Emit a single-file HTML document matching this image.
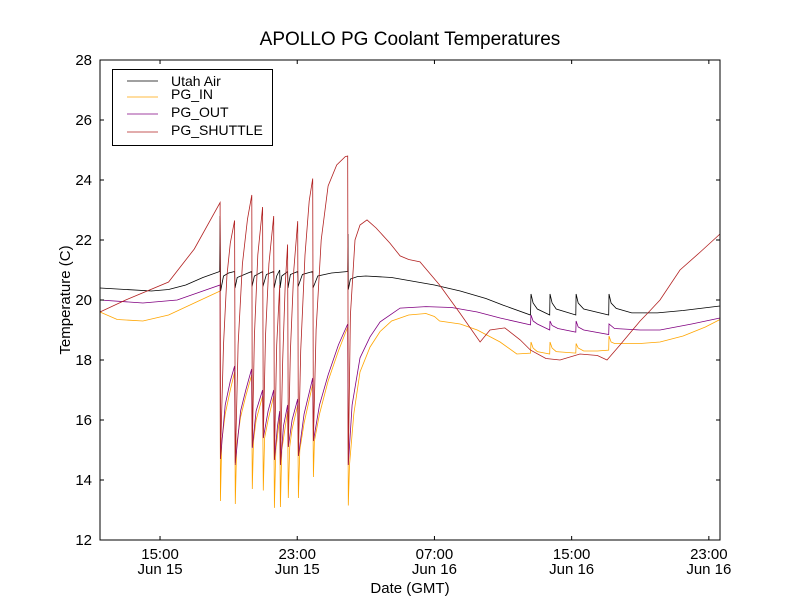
<!DOCTYPE html>
<html><head><meta charset="utf-8"><style>
body{margin:0;background:#fff;}
svg text{font-family:"Liberation Sans","DejaVu Sans",sans-serif;}
</style></head><body>
<svg id="chart" width="800" height="600" xmlns="http://www.w3.org/2000/svg">
<rect width="800" height="600" fill="#fff"/>
<text x="410" y="45" font-size="19" text-anchor="middle">APOLLO PG Coolant Temperatures</text>
<text x="410" y="593" font-size="15" text-anchor="middle">Date (GMT)</text>
<text transform="translate(70,300) rotate(-90)" font-size="15" text-anchor="middle">Temperature (C)</text>
<g id="series"></g>
<g id="axes"></g>
<rect x="100" y="60" width="620" height="480" fill="none" stroke="#000" stroke-width="1"/>
<g>
<rect x="112.5" y="69.5" width="160" height="76" fill="#fff" stroke="#000"/>
<line x1="127" y1="81" x2="158" y2="81" stroke="#000" stroke-width="0.8"/>
<text x="171" y="86" font-size="14">Utah Air</text>
<line x1="127" y1="97" x2="158" y2="97" stroke="#ffa500" stroke-width="0.8"/>
<text x="171" y="99" font-size="14">PG_IN</text>
<line x1="127" y1="114" x2="158" y2="114" stroke="#800080" stroke-width="0.8"/>
<text x="171" y="117" font-size="14">PG_OUT</text>
<line x1="127" y1="132" x2="158" y2="132" stroke="#b22222" stroke-width="0.8"/>
<text x="171" y="135" font-size="14">PG_SHUTTLE</text>
</g>
</svg>
<script>
const yTicks=[12,14,16,18,20,22,24,26,28];
const xTickHours=[15,23,31,39,47];
const xTickTimes=["15:00","23:00","07:00","15:00","23:00"];
const xTickDates=["Jun 15","Jun 15","Jun 16","Jun 16","Jun 16"];
const utahAir=[[11.5,20.4],[13,20.35],[14.5,20.3],[15.5,20.35],[16.5,20.5],[17.5,20.75],[18.48,20.95],[18.5,22.8],[18.53,20.3],[18.7,20.8],[19.0,20.9],[19.35,20.95],[19.37,20.4],[19.5,20.75],[20.34,20.95],[20.36,20.45],[20.5,20.8],[20.98,20.95],[21.0,20.45],[21.2,20.85],[21.63,20.95],[21.65,20.4],[21.8,20.8],[21.98,21.0],[22.0,20.4],[22.1,20.8],[22.44,20.95],[22.46,20.4],[22.6,20.85],[23.03,20.95],[23.05,20.45],[23.3,20.85],[23.9,20.95],[23.92,20.4],[24.2,20.8],[25.0,20.9],[25.94,20.95],[25.96,22.2],[25.98,20.35],[26.1,20.7],[26.5,20.78],[27,20.8],[28.5,20.75],[29.5,20.65],[31,20.5],[32.5,20.3],[34,20.05],[35,19.83],[36.6,19.5],[36.63,20.2],[36.75,19.9],[37.0,19.7],[37.72,19.5],[37.74,20.2],[37.86,19.9],[38.1,19.7],[39.24,19.5],[39.26,20.2],[39.38,19.9],[39.7,19.7],[41.16,19.5],[41.18,20.2],[41.3,19.9],[41.6,19.72],[42.5,19.57],[44,19.57],[45.5,19.65],[47.65,19.8]];
const pgIn=[[11.5,19.6],[12.5,19.35],[14,19.3],[15.5,19.5],[17,19.9],[18.5,20.3],[18.52,13.3],[18.6,15.3],[18.8,16.2],[19.1,17.0],[19.35,17.6],[19.39,13.2],[19.47,15.2],[19.7,16.1],[20.0,16.8],[20.34,17.5],[20.38,13.7],[20.45,15.3],[20.6,16.0],[20.98,16.8],[21.02,13.65],[21.1,15.4],[21.3,16.0],[21.63,16.8],[21.67,13.07],[21.75,15.0],[21.98,16.1],[22.02,13.1],[22.1,15.0],[22.44,16.3],[22.48,13.4],[22.56,15.1],[22.7,15.7],[23.03,16.5],[23.07,13.4],[23.15,15.0],[23.4,15.9],[23.9,17.2],[23.94,14.1],[24.0,15.3],[24.3,16.2],[24.8,17.3],[25.4,18.3],[25.94,19.1],[25.98,13.15],[26.05,14.5],[26.3,16.2],[26.66,17.6],[27.24,18.43],[27.83,18.95],[28.5,19.3],[29.5,19.5],[30.5,19.55],[31.0,19.45],[31.3,19.3],[32.5,19.2],[33.5,19.0],[34.83,18.6],[35.8,18.2],[36.6,18.23],[36.63,18.6],[36.75,18.4],[37.0,18.28],[37.72,18.2],[37.74,18.6],[37.86,18.4],[38.1,18.28],[39.24,18.23],[39.26,18.55],[39.38,18.4],[39.7,18.3],[40.5,18.3],[41.16,18.33],[41.18,18.8],[41.3,18.6],[41.5,18.55],[43,18.55],[44.15,18.6],[45.5,18.8],[46.8,19.1],[47.65,19.35]];
const pgOut=[[11.5,20.0],[14,19.9],[16,20.0],[17.5,20.3],[18.5,20.5],[18.52,14.7],[18.8,16.5],[19.1,17.3],[19.35,17.8],[19.39,14.57],[19.7,16.3],[20.0,17.0],[20.34,17.7],[20.38,15.07],[20.6,16.3],[20.98,17.0],[21.02,15.4],[21.3,16.3],[21.63,17.0],[21.67,14.67],[21.85,15.8],[21.98,16.3],[22.02,14.5],[22.2,15.8],[22.44,16.5],[22.48,15.1],[22.7,16.0],[23.03,16.7],[23.07,14.8],[23.4,16.2],[23.9,17.4],[23.94,15.3],[24.3,16.5],[24.8,17.5],[25.4,18.5],[25.94,19.2],[25.98,14.5],[26.2,16.5],[26.66,18.07],[27.24,18.77],[27.83,19.27],[29.0,19.73],[30.5,19.78],[32.0,19.75],[33.5,19.6],[34.83,19.4],[36.6,19.17],[36.63,19.5],[36.75,19.3],[37.0,19.2],[37.72,19.0],[37.74,19.3],[37.86,19.15],[38.2,19.05],[39.24,18.93],[39.26,19.3],[39.38,19.1],[39.7,19.0],[41.16,18.85],[41.18,19.2],[41.5,19.05],[43,19.0],[44.15,19.0],[46,19.2],[47.65,19.4]];
const pgShuttle=[[11.5,19.6],[13,20.0],[15.5,20.6],[17,21.7],[18.5,23.25],[18.52,14.7],[18.7,18.5],[18.9,20.8],[19.1,21.9],[19.35,22.65],[19.39,14.5],[19.55,18.5],[19.8,21.2],[20.1,22.7],[20.35,23.5],[20.38,15.1],[20.5,18.8],[20.7,21.5],[20.98,23.1],[21.02,15.4],[21.15,18.8],[21.35,21.2],[21.63,22.8],[21.67,14.67],[21.8,18.5],[21.98,20.5],[22.02,14.5],[22.15,18.0],[22.3,20.5],[22.44,21.85],[22.48,15.1],[22.6,18.3],[22.8,21.0],[23.03,22.63],[23.07,14.8],[23.2,18.3],[23.45,21.5],[23.7,23.3],[23.9,24.05],[23.94,15.3],[24.1,19],[24.4,22],[24.8,23.8],[25.3,24.5],[25.8,24.78],[25.94,24.8],[25.98,14.5],[26.1,19.5],[26.37,22.0],[26.66,22.5],[27.07,22.67],[27.6,22.4],[28.4,21.9],[29.0,21.47],[29.5,21.35],[30.16,21.27],[31.3,20.5],[32.5,19.55],[33.66,18.6],[34.24,19.0],[35.1,19.07],[36.0,18.67],[36.6,18.33],[37.5,18.05],[38.32,18.0],[39.49,18.2],[40.5,18.15],[41.06,18.0],[41.82,18.5],[42.99,19.3],[43.5,19.6],[44.15,20.0],[45.32,21.0],[46.5,21.6],[47.65,22.2]];

const X0=100,X1=720,Y0=540,Y1=60,HMIN=11.5,HMAX=47.65,VMIN=12,VMAX=28;
function xs(h){return X0+(h-HMIN)/(HMAX-HMIN)*(X1-X0);}
function ys(v){return Y0-(v-VMIN)/(VMAX-VMIN)*(Y0-Y1);}
const NS="http://www.w3.org/2000/svg";
const series=document.getElementById('series');
const axes=document.getElementById('axes');
function drawLine(data,color,name){
  const p=document.createElementNS(NS,'polyline');
  p.setAttribute('points',data.map(d=>xs(d[0]).toFixed(1)+','+ys(d[1]).toFixed(1)).join(' '));
  p.setAttribute('fill','none');p.setAttribute('stroke',color);p.setAttribute('stroke-width','0.8');
  
  
  series.appendChild(p);
}
drawLine(utahAir,'#000','utah-air-line');
drawLine(pgIn,'#ffa500','pg-in-line');
drawLine(pgOut,'#800080','pg-out-line');
drawLine(pgShuttle,'#b22222','pg-shuttle-line');
function mk(tag,attrs){const e=document.createElementNS(NS,tag);for(const k in attrs)e.setAttribute(k,attrs[k]);axes.appendChild(e);return e;}
yTicks.forEach(v=>{
  const y=ys(v);
  const t1=mk('line',{x1:X0,y1:y,x2:X0+4,y2:y,stroke:'#000'});
  
  
  const t2=mk('line',{x1:X1,y1:y,x2:X1-4,y2:y,stroke:'#000'});
  
  
  const tx=mk('text',{x:X0-8,y:y+5,'font-size':15,'text-anchor':'end'});
  tx.textContent=v;
  
  
});
xTickHours.forEach((h,i)=>{
  const x=xs(h);
  const t1=mk('line',{x1:x,y1:Y0,x2:x,y2:Y0-4,stroke:'#000'});
  
  
  const t2=mk('line',{x1:x,y1:Y1,x2:x,y2:Y1+4,stroke:'#000'});
  
  
  const a=mk('text',{x:x,y:Y0+19,'font-size':15,'text-anchor':'middle'});
  a.textContent=xTickTimes[i];
  
  
  const b=mk('text',{x:x,y:Y0+34,'font-size':15,'text-anchor':'middle'});
  b.textContent=xTickDates[i];
  
  
});
</script>
</body></html>
